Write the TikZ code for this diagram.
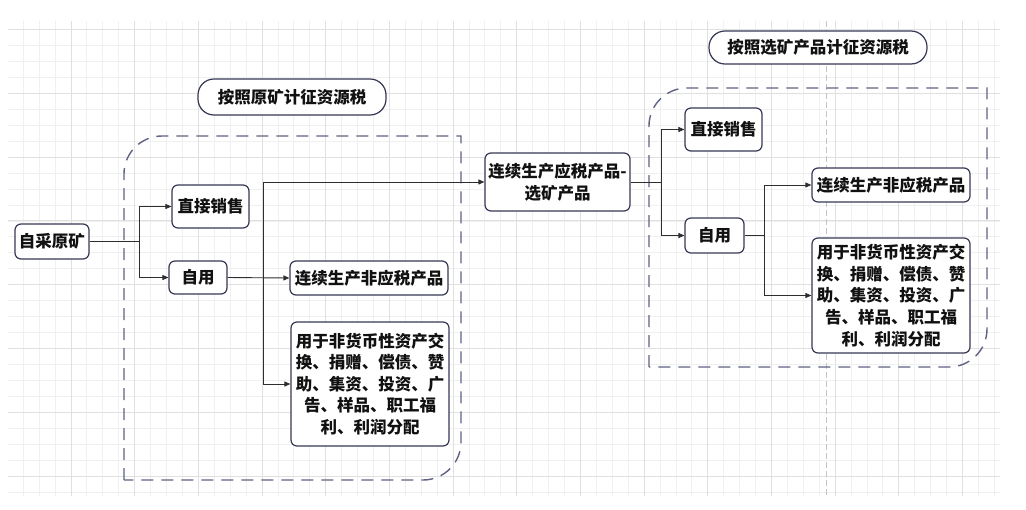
\documentclass[tikz,border=0pt]{standalone}
\usepackage{fontspec}
\setmainfont{Noto Sans CJK SC}
\usetikzlibrary{arrows.meta}
\definecolor{boxc}{HTML}{363956}
\definecolor{dashc}{HTML}{5E6384}
\definecolor{linec}{HTML}{2E2E2E}
\definecolor{gridminor}{HTML}{F0F0F0}
\definecolor{gridmajor}{HTML}{E0E0E0}
\definecolor{pagec}{HTML}{C4C4C4}
\definecolor{txtc}{HTML}{111111}
\begin{document}
\begin{tikzpicture}[x=1pt,y=-1pt,
  box/.style={draw=boxc, line width=1.2pt, rounded corners=6pt, fill=white, inner sep=0pt,
    text=txtc, font=\fontsize{16.5}{21.6}\selectfont\bfseries, align=center},
  pill/.style={box, rounded corners=16pt},
  conn/.style={draw=linec, line width=0.9pt},
  arr/.style={conn, -{Triangle[length=6pt,width=5pt]}},
  region/.style={draw=dashc, line width=1.4pt, dash pattern=on 12pt off 8pt},
]
\useasboundingbox (0,0) rectangle (1026,509);
\fill[white] (0,0) rectangle (1026,509);
% grid
\foreach \i in {0,...,61} \draw[gridminor, line width=0.8pt] ({23.2+15.92*\i},21) -- ({23.2+15.92*\i},496);
\foreach \j in {0,...,29} \draw[gridminor, line width=0.8pt] (8,{29.5+15.95*\j}) -- (1000,{29.5+15.95*\j});
\foreach \i in {0,...,14} \draw[gridmajor, line width=0.9pt] ({70.96+63.68*\i},21) -- ({70.96+63.68*\i},496);
\foreach \j in {-1,...,6} \draw[gridmajor, line width=0.9pt] (8,{93.3+63.8*\j}) -- (1000,{93.3+63.8*\j});
\draw[pagec, line width=0.8pt, dash pattern=on 6pt off 3pt] (826,21) -- (826,496);

% dashed regions
\draw[region] (124,480) -- (124,174) arc (180:270:38) -- (461,136) -- (461,442) arc (0:90:38) -- cycle;
\draw[region] (649,367) -- (649,126) arc (180:270:38) -- (987,88) -- (987,329) arc (0:90:38) -- cycle;

% nodes
\node[box, minimum width=74pt, minimum height=35pt] (src) at (52,241.5) {自采原矿};
\node[pill, minimum width=188pt, minimum height=36pt] (pillL) at (292,97) {按照原矿计征资源税};
\node[box, minimum width=77pt, minimum height=43pt] (dsL) at (210.5,206.5) {直接销售};
\node[box, minimum width=58pt, minimum height=33pt] (zyL) at (198,277.5) {自用};
\node[box, minimum width=158pt, minimum height=34pt] (fL) at (369,278) {连续生产非应税产品};
\node[box, minimum width=158pt, minimum height=124pt] (uL) at (370,384) {用于非货币性资产交\\换、捐赠、偿债、赞\\助、集资、投资、广\\告、样品、职工福\\利、利润分配};
\node[box, minimum width=145pt, minimum height=58pt] (mid) at (557.5,182) {连续生产应税产品-\\选矿产品};
\node[pill, minimum width=218pt, minimum height=33pt] (pillR) at (818,47.5) {按照选矿产品计征资源税};
\node[box, minimum width=77pt, minimum height=43pt] (dsR) at (723.5,129.5) {直接销售};
\node[box, minimum width=59pt, minimum height=35pt] (zyR) at (714.5,235.5) {自用};
\node[box, minimum width=158pt, minimum height=34pt] (fR) at (891,185) {连续生产非应税产品};
\node[box, minimum width=158pt, minimum height=115pt] (uR) at (891,295.5) {用于非货币性资产交\\换、捐赠、偿债、赞\\助、集资、投资、广\\告、样品、职工福\\利、利润分配};

% connectors
\draw[conn] (src.east) -- (src.east -| 139,0) coordinate (j1);
\draw[arr] (j1) |- (dsL.west);
\draw[arr] (j1) |- (zyL.west);
\draw[arr] (zyL.east) -- (fL.west);
\coordinate (j2) at (zyL.east -| 263,0);
\draw[arr] (j2) |- (mid.west);
\draw[arr] (j2) |- (uL.west);
\draw[conn] (mid.east) -- (mid.east -| 661,0) coordinate (j3);
\draw[arr] (j3) |- (dsR.west);
\draw[arr] (j3) |- (zyR.west);
\draw[conn] (zyR.east) -- (zyR.east -| 764,0) coordinate (j4);
\draw[arr] (j4) |- (fR.west);
\draw[arr] (j4) |- (uR.west);
\end{tikzpicture}
\end{document}
